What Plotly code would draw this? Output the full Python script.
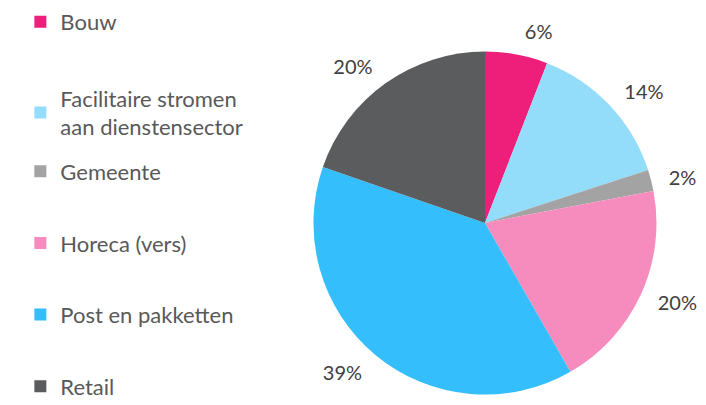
import plotly.graph_objects as go

categories = ["Bouw", "Facilitaire stromen<br>aan dienstensector", "Gemeente",
              "Horeca (vers)", "Post en pakketten", "Retail"]
values = [5.9, 14.1, 2.0, 19.7, 38.6, 19.7]
colors = ["#EE1F7A", "#93DCFA", "#A3A3A3", "#F68BBE", "#34BEFB", "#5B5C5E"]

FONT = "Lato"

fig = go.Figure()

# visible pie (no text)
fig.add_trace(go.Pie(
    labels=categories,
    values=values,
    marker=dict(colors=colors, line=dict(width=0)),
    sort=False,
    direction="clockwise",
    rotation=0,
    textinfo="none",
    showlegend=False,
    domain=dict(x=[0.4326, 0.9186], y=[0.0456, 0.8926]),
))

# transparent, slightly larger pie that only carries the percentage labels
fig.add_trace(go.Pie(
    labels=categories,
    values=values,
    marker=dict(colors=["rgba(0,0,0,0)"] * len(values), line=dict(width=0)),
    sort=False,
    direction="clockwise",
    rotation=0,
    textposition="outside",
    texttemplate="%{percent:.0%}",
    textfont=dict(family=FONT, size=20, color="#404040"),
    showlegend=False,
    hoverinfo="skip",
    domain=dict(x=[0.4157, 0.9355], y=[0.016, 0.9222]),
))

# legend entries as square markers
for i, (cat, col) in enumerate(zip(categories, colors)):
    fig.add_trace(go.Scatter(
        x=[None], y=[None], mode="markers", name=cat,
        marker=dict(symbol="square", size=12, color=col),
        legendgroup=f"g{i}",
        legend="legend" if i < 2 else "legend2",
        hoverinfo="skip",
    ))

legend_common = dict(
    font=dict(family=FONT, size=22, color="#595959"),
    bgcolor="rgba(0,0,0,0)",
    xanchor="left", yanchor="top",
    itemclick=False, itemdoubleclick=False,
)

fig.update_layout(
    width=706, height=405,
    margin=dict(l=0, r=0, t=0, b=0, autoexpand=False),
    paper_bgcolor="white", plot_bgcolor="white",
    xaxis=dict(visible=False), yaxis=dict(visible=False),
    legend=dict(x=0.0175, y=1.0175, tracegroupgap=45, **legend_common),
    legend2=dict(x=0.0175, y=0.648, tracegroupgap=40, **legend_common),
)

fig.write_html("out.html")
